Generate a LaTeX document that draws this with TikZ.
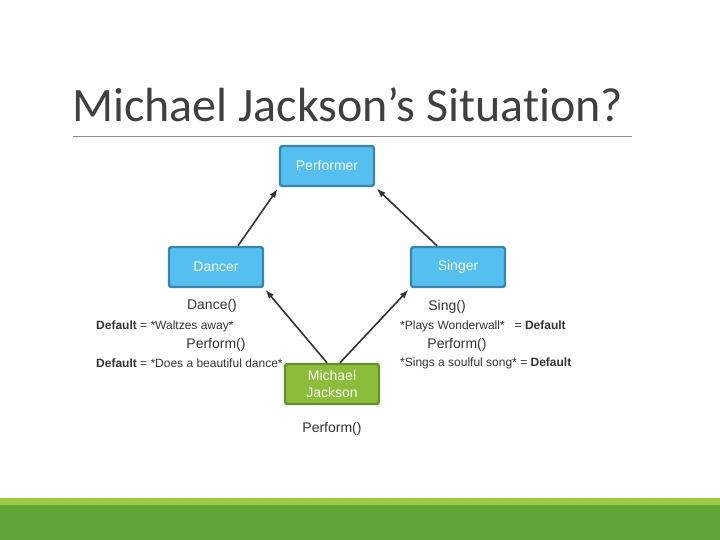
\documentclass[tikz,border=0pt]{standalone}
\usepackage{fontspec}
\setmainfont{Liberation Sans}
\newfontfamily\titlefont[Ligatures=NoCommon]{Carlito}
\usetikzlibrary{positioning,arrows.meta}
\definecolor{mjtitle}{HTML}{404040}
\definecolor{mjrule}{HTML}{8C8C8C}
\definecolor{mjblue}{HTML}{55C0F0}
\definecolor{mjbluedk}{HTML}{3A85AD}
\definecolor{mjgreen}{HTML}{8CBD3A}
\definecolor{mjgreendk}{HTML}{66902A}
\definecolor{mjlime}{HTML}{9BC93F}
\definecolor{mjband}{HTML}{62A537}
\definecolor{mjink}{HTML}{333333}
\tikzset{
  cls/.style={draw=mjbluedk,fill=mjblue,line width=2.4pt,rounded corners=2.5pt,minimum height=40pt,minimum width=94pt,font=\fontsize{14}{17}\selectfont,text=white!92!mjblue,align=center},
  obj/.style={cls,draw=mjgreendk,fill=mjgreen,text=white!92!mjgreen},
  meth/.style={font=\fontsize{14}{17}\selectfont,text=mjink},
  note/.style={font=\fontsize{12}{14}\selectfont,text=mjink,inner sep=0pt},
  lnk/.style={-{Latex[length=9pt,width=6.5pt]},line width=1.6pt,draw=mjink,shorten >=2pt},
}
\begin{document}
\begin{tikzpicture}[x=1pt,y=-1pt]
  \useasboundingbox (0,0) rectangle (720,540);
  % slide frame
  \fill[mjlime] (0,498) rectangle (720,505);
  \fill[mjband] (0,505) rectangle (720,540);
  \node[anchor=base west,inner sep=0pt,text=mjtitle,font=\titlefont\fontsize{48}{54}\selectfont] (title) at (72,122) {Michael Jackson’s Situation?};
  \draw[mjrule,line width=0.8pt] (73,136) -- (632,136);
  % classes
  \node[cls] (perf) at (327,166) {Performer};
  \node[cls] (dancer) at (216,267) {Dancer};
  \node[cls] (singer) at (458,267) {Singer};
  \node[obj] (mj) at (332,384) {Michael\\Jackson};
  % methods
  \node[meth] (dance) at (212,306) {Dance()};
  \node[meth] (sing) at (447,307) {Sing()};
  \node[meth] (dperf) at (216,345) {Perform()};
  \node[meth] (sperf) at (457,345) {Perform()};
  \node[meth,below=14pt of mj] (mjperf) {Perform()};
  \node[note,anchor=west] (dwaltz) at (96,326) {\textbf{Default} = *Waltzes away*};
  \node[note,anchor=west] (ddance) at (96,363) {\textbf{Default} = *Does a beautiful dance*};
  \node[note,anchor=west] (swall) at (400,326) {*Plays Wonderwall*\ \ \ = \textbf{Default}};
  \node[note,anchor=west] (ssong) at (400,363) {*Sings a soulful song* = \textbf{Default}};
  % inheritance
  \draw[lnk] (dancer.north) ++(22,0) coordinate (d1) -- (perf.south west);
  \draw[lnk] (singer.north) ++(-21,0) coordinate (s1) -- (perf.south east);
  \draw[lnk] (mj.north) ++(-5,0) coordinate (m1) -- (dancer.south east);
  \draw[lnk] (mj.north) ++(8,0) coordinate (m2) -- (singer.south west);
\end{tikzpicture}
\end{document}
